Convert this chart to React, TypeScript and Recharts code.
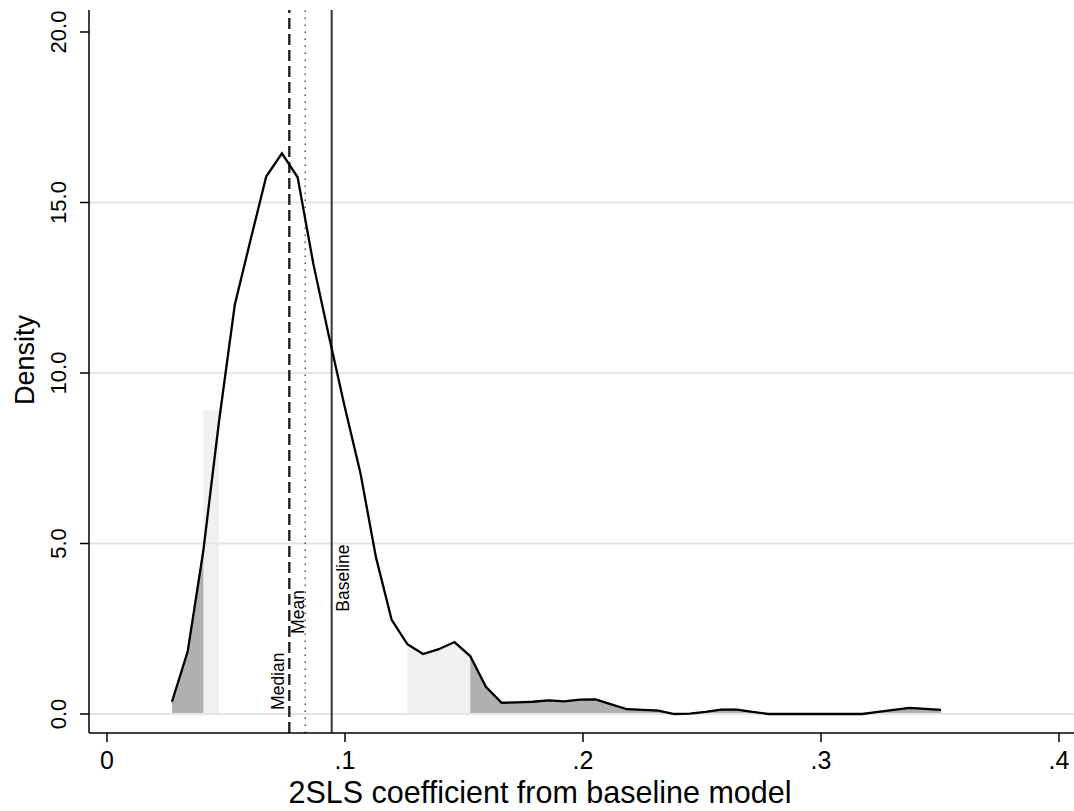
import React from 'react';
import {
  ComposedChart, Line, Area, XAxis, YAxis, ReferenceLine, ReferenceArea, ReferenceDot, Label,
} from 'recharts';

// Kernel density evaluation grid (2SLS coefficient) and estimated density
const xGrid = [
  0.0273, 0.0339, 0.0405, 0.0471, 0.0537, 0.0603, 0.0669, 0.0735, 0.0801, 0.0867,
  0.0933, 0.0999, 0.1065, 0.1130, 0.1196, 0.1262, 0.1328, 0.1394, 0.1460, 0.1526,
  0.1592, 0.1658, 0.1724, 0.1790, 0.1856, 0.1921, 0.1987, 0.2053, 0.2119, 0.2185,
  0.2251, 0.2317, 0.2383, 0.2449, 0.2515, 0.2581, 0.2647, 0.2712, 0.2778, 0.2844,
  0.2910, 0.2976, 0.3042, 0.3108, 0.3174, 0.3240, 0.3306, 0.3372, 0.3438, 0.3504,
];
const density = [
  0.36, 1.83, 4.8, 8.6, 12.0, 13.9, 15.76, 16.44, 15.74, 13.2,
  11.06, 9.0, 7.06, 4.6, 2.76, 2.05, 1.76, 1.9, 2.11, 1.7,
  0.8, 0.33, 0.34, 0.36, 0.4, 0.37, 0.42, 0.43, 0.28, 0.14,
  0.12, 0.1, 0.0, 0.01, 0.06, 0.13, 0.13, 0.06, 0.0, 0.0,
  0.0, 0.0, 0.0, 0.0, 0.0, 0.06, 0.12, 0.18, 0.15, 0.12,
];

// Shaded ranges of the coefficient
const darkRanges: [number, number][] = [[0.0273, 0.0405], [0.1526, 0.3504]];
const lightRanges: [number, number][] = [[0.1262, 0.1526]];
const lightStrip = [0.0405, 0.0471];
const lightStripTop = 8.9;

// Summary markers
const markerNames = ['Median', 'Mean', 'Baseline'];
const markerX = [0.0766, 0.0833, 0.0944];
const markerLabelY = [0.12, 2.35, 3.0];

const xTicks = [0, 0.1, 0.2, 0.3, 0.4];
const xTickLabels = ['0', '.1', '.2', '.3', '.4'];
const yTicks = [0, 5, 10, 15, 20];
const yTickLabels = ['0.0', '5.0', '10.0', '15.0', '20.0'];
const gridValues = [0, 5, 10, 15];

const FONT = 'Liberation Sans, Arial, Helvetica, sans-serif';

const curve = xGrid.map((x, i) => ({ x, d: density[i] }));
const inRange = (r: [number, number]) => curve.filter((p) => p.x >= r[0] - 1e-9 && p.x <= r[1] + 1e-9);

const XTick = (props: any) => {
  const { x, y, payload } = props;
  const idx = xTicks.indexOf(payload.value);
  return (
    <text x={x} y={y + 25} textAnchor="middle" fontSize={25} fontFamily={FONT} fill="#000">
      {idx >= 0 ? xTickLabels[idx] : payload.value}
    </text>
  );
};

const YTick = (props: any) => {
  const { x, y, payload } = props;
  const idx = yTicks.indexOf(payload.value);
  const bx = x - 12;
  return (
    <text x={bx} y={y} transform={`rotate(-90, ${bx}, ${y})`} textAnchor="middle" fontSize={22} fontFamily={FONT} fill="#000">
      {idx >= 0 ? yTickLabels[idx] : payload.value}
    </text>
  );
};

const markerLabelOffset = [-5, -1, 17];

const makeLabelShape = (i: number) => (props: any) => {
  const { cx, cy } = props;
  const bx = cx + markerLabelOffset[i];
  return (
    <text x={bx} y={cy} transform={`rotate(-90, ${bx}, ${cy})`} textAnchor="start" fontSize={17.5} fontFamily={FONT} fill="#000">
      {markerNames[i]}
    </text>
  );
};

export default function App() {
  return (
    <div style={{ position: 'absolute', left: 0, top: 0, background: '#fff' }}>
      <ComposedChart width={1074} height={811} data={curve} margin={{ top: 10, right: 0, bottom: 0, left: 0 }}>
        <XAxis
          type="number"
          dataKey="x"
          domain={[-0.00756, 0.4063]}
          ticks={xTicks}
          allowDataOverflow
          height={78}
          tickSize={9}
          tick={<XTick />}
          axisLine={{ stroke: '#000', strokeWidth: 1.5 }}
          tickLine={{ stroke: '#000', strokeWidth: 1.5 }}
        >
          <Label
            content={() => (
              <text x={540} y={803} textAnchor="middle" fontSize={30.5} fontFamily={FONT} fill="#000">
                2SLS coefficient from baseline model
              </text>
            )}
          />
        </XAxis>
        <YAxis
          type="number"
          domain={[-0.557, 20.645]}
          ticks={yTicks}
          allowDataOverflow
          width={89}
          tickSize={9}
          tick={<YTick />}
          axisLine={{ stroke: '#000', strokeWidth: 1.5 }}
          tickLine={{ stroke: '#000', strokeWidth: 1.5 }}
        >
          <Label
            content={() => (
              <text x={34} y={360} transform="rotate(-90, 34, 360)" textAnchor="middle" fontSize={27} fontFamily={FONT} fill="#000">
                Density
              </text>
            )}
          />
        </YAxis>

        {gridValues.map((v) => (
          <ReferenceLine key={'g' + v} y={v} stroke="#e6e6e6" strokeWidth={2} />
        ))}

        <ReferenceArea x1={lightStrip[0]} x2={lightStrip[1]} y1={0} y2={lightStripTop} fill="#f0f0f0" fillOpacity={1} stroke="none" />

        {lightRanges.map((r, i) => (
          <Area
            key={'l' + i}
            data={inRange(r)}
            dataKey="d"
            type="linear"
            baseValue={0}
            fill="#f0f0f0"
            fillOpacity={1}
            stroke="none"
            isAnimationActive={false}
          />
        ))}
        {darkRanges.map((r, i) => (
          <Area
            key={'d' + i}
            data={inRange(r)}
            dataKey="d"
            type="linear"
            baseValue={0}
            fill="#b0b0b0"
            fillOpacity={1}
            stroke="#999999"
            strokeWidth={1.5}
            isAnimationActive={false}
          />
        ))}

        <ReferenceLine x={markerX[0]} stroke="#222" strokeWidth={2.4} strokeDasharray="11 5" />
        <ReferenceLine x={markerX[1]} stroke="#555" strokeWidth={1.5} strokeDasharray="1.5 5.5" />
        <ReferenceLine x={markerX[2]} stroke="#333" strokeWidth={2} />

        <Line
          data={curve}
          dataKey="d"
          type="linear"
          dot={false}
          stroke="#000"
          strokeWidth={2.3}
          isAnimationActive={false}
        />

        {markerNames.map((n, i) => (
          <ReferenceDot key={n} x={markerX[i]} y={markerLabelY[i]} r={1} shape={makeLabelShape(i)} />
        ))}
      </ComposedChart>
    </div>
  );
}
